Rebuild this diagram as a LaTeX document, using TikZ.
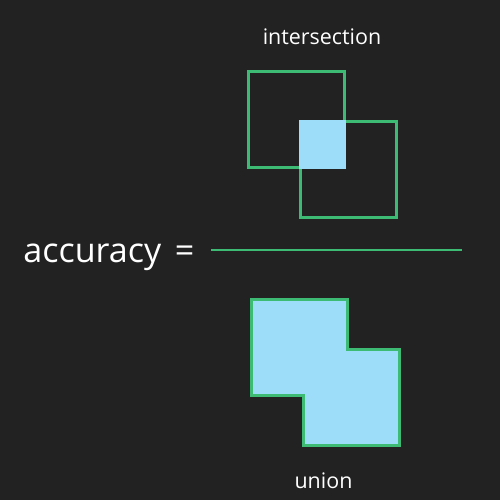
\documentclass[tikz,border=0pt]{standalone}
\usepackage{fontspec}
\setmainfont{Open Sans}
\definecolor{IoUBack}{RGB}{34,34,34}
\definecolor{IoUGreen}{RGB}{61,187,117}
\definecolor{IoUBlue}{RGB}{158,221,249}

\begin{document}
\begin{tikzpicture}[x=0.02cm, y=-0.02cm,
    box/.style={draw=IoUGreen, line width=1.7pt},
    lbl/.style={text=white, inner sep=0pt, anchor=base,
                font=\fontsize{12.2pt}{14pt}\selectfont}
  ]
  \fill[IoUBack] (0,0) rectangle (500,500);
  \useasboundingbox (0,0) rectangle (500,500);

  % numerator: two boxes and their overlap
  \draw[box] (248.5,71.5) rectangle (344.5,167.5);
  \draw[box] (300.5,121.5) rectangle (396.5,217.5);
  \fill[IoUBlue] (299,120) rectangle (346,168.5);
  \node[lbl] (inter) at (322,45) {intersection};

  % fraction bar
  \draw[draw=IoUGreen, line width=1.7pt] (211,250) -- (462,250);
  \node[text=white, inner sep=0pt, anchor=base west,
        font=\fontsize{19.4pt}{22pt}\selectfont]
        (acc) at (23,262) {accuracy\hspace{0.4em}=};

  % denominator: union of the boxes
  \draw[box, fill=IoUBlue] (251.5,299.5) -- (347.5,299.5) -- (347.5,349.5)
        -- (399.5,349.5) -- (399.5,445.5) -- (303.5,445.5)
        -- (303.5,395.5) -- (251.5,395.5) -- cycle;
  \node[lbl] (union) at (323.5,488) {union};
\end{tikzpicture}
\end{document}
